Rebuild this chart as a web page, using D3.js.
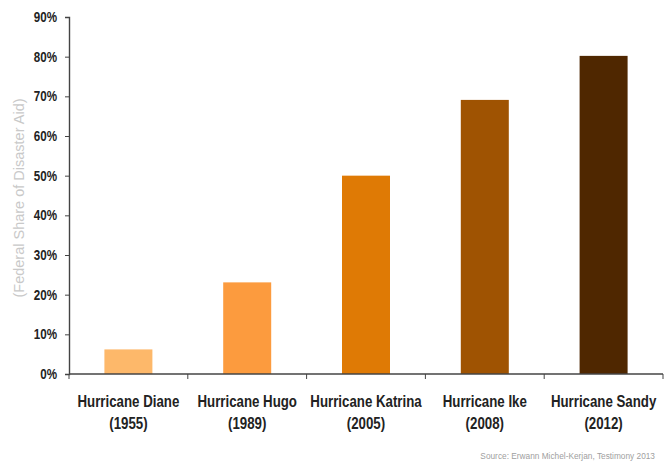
<!DOCTYPE html>
<html>
<head>
<meta charset="utf-8">
<script src="https://cdn.jsdelivr.net/npm/d3@7"></script>
<style>
  body { margin: 0; background: #fff; }
  svg { display: block; }
</style>
</head>
<body>
<svg id="chart" width="667" height="463"></svg>
<script>
// data
const storms = ["Hurricane Diane", "Hurricane Hugo", "Hurricane Katrina", "Hurricane Ike", "Hurricane Sandy"];
const years = ["(1955)", "(1989)", "(2005)", "(2008)", "(2012)"];
const federalShare = [6.2, 23.1, 50, 69.1, 80.2];
const barColors = ["#fdb86a", "#fc9b3e", "#df7a05", "#9f5302", "#4f2700"];
const yTicks = [0, 10, 20, 30, 40, 50, 60, 70, 80, 90];

const boldFont = "'Liberation Sans', Arial, sans-serif";
const squeeze = 0.83; // the original uses a narrow bold face

let svg = d3.select("#chart");

let x = d3.scaleBand()
  .domain(storms)
  .range([69, 663])
  .paddingInner(0.596)
  .paddingOuter(0.298);

let y = d3.scaleLinear()
  .domain([0, 90])
  .range([374, 17]);

// bars
svg.append("g")
  .selectAll("rect")
  .data(storms)
  .join("rect")
  .attr("x", d => x(d))
  .attr("y", (d, i) => y(federalShare[i]))
  .attr("width", x.bandwidth())
  .attr("height", (d, i) => y(0) - y(federalShare[i]))
  .style("fill", (d, i) => barColors[i]);

// y axis
let yAxis = svg.append("g")
  .attr("transform", "translate(69,0)")
  .call(d3.axisLeft(y).tickValues(yTicks).tickFormat(d => d + "%").tickSize(4).tickSizeOuter(4).tickPadding(8));

yAxis.select(".domain").attr("stroke", "#444").attr("stroke-width", 1.4);
yAxis.selectAll(".tick line").attr("stroke", "#444");
yAxis.selectAll(".tick text")
  .attr("x", -12 / squeeze)
  .attr("transform", `scale(${squeeze},1)`)
  .style("font-family", boldFont)
  .style("font-weight", "bold")
  .style("font-size", "14px")
  .style("fill", "#222");

// x axis: ticks at band boundaries
let bounds = d3.range(storms.length + 1).map(i => 69 + i * (594 / storms.length));
let xAxis = svg.append("g");
xAxis.append("line")
  .attr("x1", 69).attr("x2", 663)
  .attr("y1", y(0)).attr("y2", y(0))
  .attr("stroke", "#444")
  .attr("stroke-width", 1.4);
xAxis.selectAll(".bt")
  .data(bounds)
  .join("line")
  .attr("x1", d => d).attr("x2", d => d)
  .attr("y1", y(0)).attr("y2", y(0) + 5)
  .attr("stroke", "#444");

// category labels
let labels = svg.append("g")
  .selectAll("text")
  .data(storms)
  .join("text")
  .attr("transform", d => `translate(${x(d) + x.bandwidth() / 2},0) scale(${squeeze},1)`)
  .attr("text-anchor", "middle")
  .style("font-family", boldFont)
  .style("font-weight", "bold")
  .style("font-size", "16px")
  .style("fill", "#222");

labels.append("tspan")
  .attr("x", 0)
  .attr("y", 407)
  .text(d => d);
labels.append("tspan")
  .attr("x", 0)
  .attr("y", 429)
  .text((d, i) => years[i]);

// y axis title
svg.append("text")
  .attr("transform", "translate(24,198) rotate(-90)")
  .attr("text-anchor", "middle")
  .style("font-family", "'Liberation Sans', Arial, sans-serif")
  .style("font-size", "14.5px")
  .style("fill", "#c9c9c9")
  .text("(Federal Share of Disaster Aid)");

// source note
svg.append("text")
  .attr("x", 655)
  .attr("y", 459)
  .attr("text-anchor", "end")
  .style("font-family", "'Liberation Sans', Arial, sans-serif")
  .style("font-size", "8.3px")
  .style("fill", "#a0a0a0")
  .text("Source: Erwann Michel-Kerjan, Testimony 2013");
</script>
</body>
</html>
